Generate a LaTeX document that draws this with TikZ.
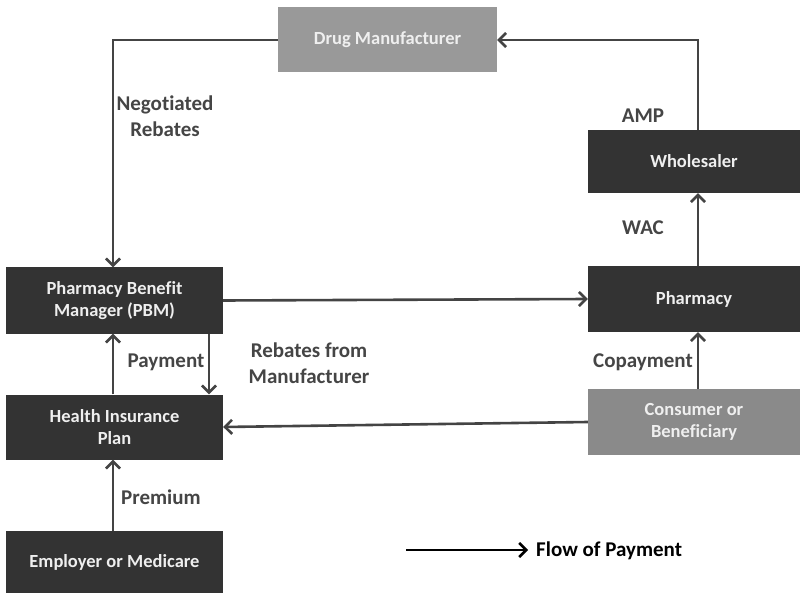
\documentclass[tikz,border=0pt]{standalone}
\usepackage{fontspec}
\setmainfont[Ligatures=NoCommon]{Carlito}
\usetikzlibrary{arrows.meta,calc}
\definecolor{darkbox}{HTML}{333333}
\definecolor{graybox}{HTML}{999999}
\definecolor{graybox2}{HTML}{8A8A8A}
\definecolor{linec}{HTML}{444444}
\definecolor{labc}{HTML}{454545}
\definecolor{boxtext}{HTML}{EFEFEF}
\begin{document}
\begin{tikzpicture}[x=1pt,y=-1pt,
  box/.style={rectangle, inner sep=0pt, align=center, text=boxtext,
    font=\bfseries\fontsize{18.5}{22}\selectfont},
  darkb/.style={box, fill=darkbox},
  grayb/.style={box, fill=graybox},
  grayc/.style={box, fill=graybox2},
  lab/.style={inner sep=0pt, align=center, text=labc,
    font=\bfseries\fontsize{21}{26}\selectfont},
  arr/.style={draw=linec, line width=2.6pt, -{Straight Barb[length=7pt,width=14pt]}}
]
\useasboundingbox (0,0) rectangle (802,593);
\fill[white] (0,0) rectangle (802,593);

% boxes
\node[grayb, minimum width=219pt, minimum height=65pt] (dm) at (387.5,40) {Drug Manufacturer};
\node[darkb, minimum width=212pt, minimum height=63pt] (wh) at (694,161.5) {Wholesaler};
\node[darkb, minimum width=212pt, minimum height=66pt] (ph) at (694,299) {Pharmacy};
\node[grayc, minimum width=212pt, minimum height=66pt] (co) at (694,422) {Consumer or\\Beneficiary};
\node[darkb, minimum width=217pt, minimum height=66pt] (pbm) at (114.5,300.5) {Pharmacy Benefit\\Manager (PBM)};
\node[darkb, minimum width=217pt, minimum height=65pt] (hip) at (114.5,427) {Health Insurance\\Plan};
\node[darkb, minimum width=217pt, minimum height=62pt] (emp) at (114.5,562) {Employer or Medicare};

% connectors
\draw[arr] (dm.west) -| ([xshift=-1.5pt]pbm.north);
\draw[arr] ([xshift=4pt]wh.north) |- (dm.east);
\draw[arr] ([xshift=4pt]ph.north) -- ([xshift=4pt]wh.south);
\draw[arr] ([xshift=4pt]co.north) -- ([xshift=4pt]ph.south);
\draw[arr] (co.west) -- (hip.east);
\draw[arr] (pbm.east) -- (ph.west);
\draw[arr] ([xshift=-1.5pt]hip.north) -- ([xshift=-1.5pt]pbm.south);
\draw[arr] ([xshift=94.5pt]pbm.south) -- ([xshift=94.5pt]hip.north);
\draw[arr] ([xshift=-1.5pt]emp.north) -- ([xshift=-1.5pt]hip.south);

% labels
\node[lab] (l_neg) at (165,116) {Negotiated\\Rebates};
\node[lab] (l_amp) at (643,116) {AMP};
\node[lab] (l_wac) at (643,228) {WAC};
\node[lab] (l_pay) at (166,362) {Payment};
\node[lab] (l_reb) at (309,363) {Rebates from\\Manufacturer};
\node[lab] (l_cop) at (643,362) {Copayment};
\node[lab] (l_pre) at (161,497) {Premium};

% legend
\coordinate (lg1) at (406,550);
\coordinate (lg2) at (528,550);
\draw[line width=2.6pt, black, -{Straight Barb[length=7pt,width=14pt]}] (lg1) -- (lg2);
\node[lab, text=black, anchor=west] (l_flow) at (536,551) {Flow of Payment};
\end{tikzpicture}
\end{document}
